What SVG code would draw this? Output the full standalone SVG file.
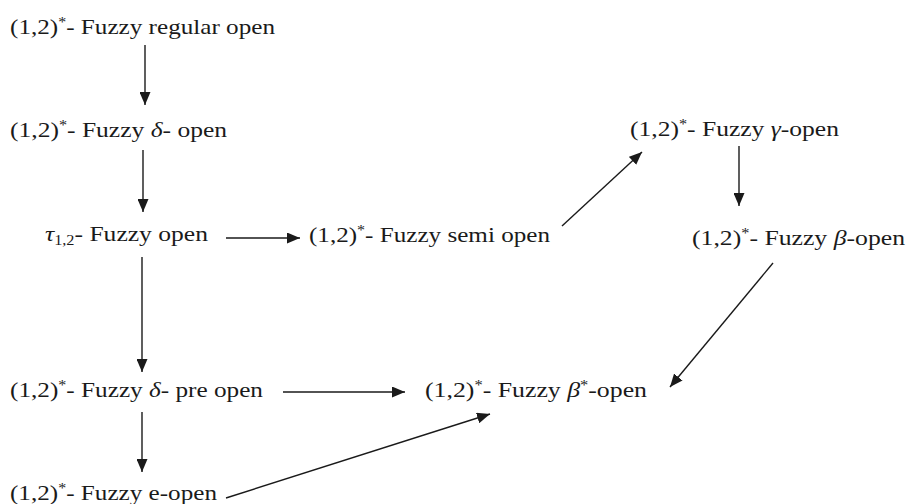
<svg xmlns="http://www.w3.org/2000/svg" width="907" height="504" viewBox="0 0 907 504">
  <style>
    .lbl { font-family: "Liberation Serif", "Times New Roman", serif; font-size: 22px; fill: #1a1a1a; }
    .it { font-style: italic; }
    .sup { font-size: 14px; }
    .sub { font-size: 14px; }
    .edge { stroke: #1a1a1a; stroke-width: 1.4; fill: none; marker-end: url(#head); }
  </style>
  <defs>
    <marker id="head" viewBox="0 0 13 11" refX="13" refY="5.5" markerWidth="13" markerHeight="11" markerUnits="userSpaceOnUse" orient="auto">
      <path d="M0,0 L13,5.5 L0,11 Z" fill="#1a1a1a"/>
    </marker>
  </defs>
  <rect width="907" height="504" fill="#ffffff"/>

  <g id="regular-open">
    <text class="lbl" x="10" y="34" textLength="265" lengthAdjust="spacingAndGlyphs">(1,2)<tspan class="sup" dy="-7">*</tspan><tspan dy="7">- Fuzzy regular open</tspan></text>
  </g>
  <g id="delta-open">
    <text class="lbl" x="10" y="137" textLength="217" lengthAdjust="spacingAndGlyphs">(1,2)<tspan class="sup" dy="-7">*</tspan><tspan dy="7">- Fuzzy </tspan><tspan class="it">δ</tspan>- open</text>
  </g>
  <g id="tau-open">
    <text class="lbl" x="45" y="241" textLength="163" lengthAdjust="spacingAndGlyphs"><tspan class="it">τ</tspan><tspan class="sub" dy="4">1,2</tspan><tspan dy="-4">- Fuzzy open</tspan></text>
  </g>
  <g id="semi-open">
    <text class="lbl" x="309" y="242" textLength="241" lengthAdjust="spacingAndGlyphs">(1,2)<tspan class="sup" dy="-7">*</tspan><tspan dy="7">- Fuzzy semi open</tspan></text>
  </g>
  <g id="gamma-open">
    <text class="lbl" x="630" y="136" textLength="209" lengthAdjust="spacingAndGlyphs">(1,2)<tspan class="sup" dy="-7">*</tspan><tspan dy="7">- Fuzzy </tspan><tspan class="it">γ</tspan>-open</text>
  </g>
  <g id="beta-open">
    <text class="lbl" x="692" y="245" textLength="213" lengthAdjust="spacingAndGlyphs">(1,2)<tspan class="sup" dy="-7">*</tspan><tspan dy="7">- Fuzzy </tspan><tspan class="it">β</tspan>-open</text>
  </g>
  <g id="delta-pre-open">
    <text class="lbl" x="10" y="397" textLength="253" lengthAdjust="spacingAndGlyphs">(1,2)<tspan class="sup" dy="-7">*</tspan><tspan dy="7">- Fuzzy </tspan><tspan class="it">δ</tspan>- pre open</text>
  </g>
  <g id="beta-star-open">
    <text class="lbl" x="425" y="397" textLength="222" lengthAdjust="spacingAndGlyphs">(1,2)<tspan class="sup" dy="-7">*</tspan><tspan dy="7">- Fuzzy </tspan><tspan class="it">β</tspan><tspan class="sup" dy="-7">*</tspan><tspan dy="7">-open</tspan></text>
  </g>
  <g id="e-open">
    <text class="lbl" x="10" y="500" textLength="207" lengthAdjust="spacingAndGlyphs">(1,2)<tspan class="sup" dy="-7">*</tspan><tspan dy="7">- Fuzzy e-open</tspan></text>
  </g>

  <g id="connectors">
    <line class="edge" x1="145" y1="45" x2="145" y2="105"/>
    <line class="edge" x1="143" y1="150" x2="143" y2="212"/>
    <line class="edge" x1="142" y1="257" x2="142" y2="372"/>
    <line class="edge" x1="142" y1="412" x2="142" y2="472"/>
    <line class="edge" x1="226" y1="238" x2="300" y2="238"/>
    <line class="edge" x1="562" y1="226" x2="642" y2="152"/>
    <line class="edge" x1="739" y1="146" x2="739" y2="206"/>
    <line class="edge" x1="773" y1="263" x2="670" y2="387"/>
    <line class="edge" x1="283" y1="392" x2="405" y2="392"/>
    <line class="edge" x1="226" y1="498" x2="490" y2="414"/>
  </g>
</svg>
